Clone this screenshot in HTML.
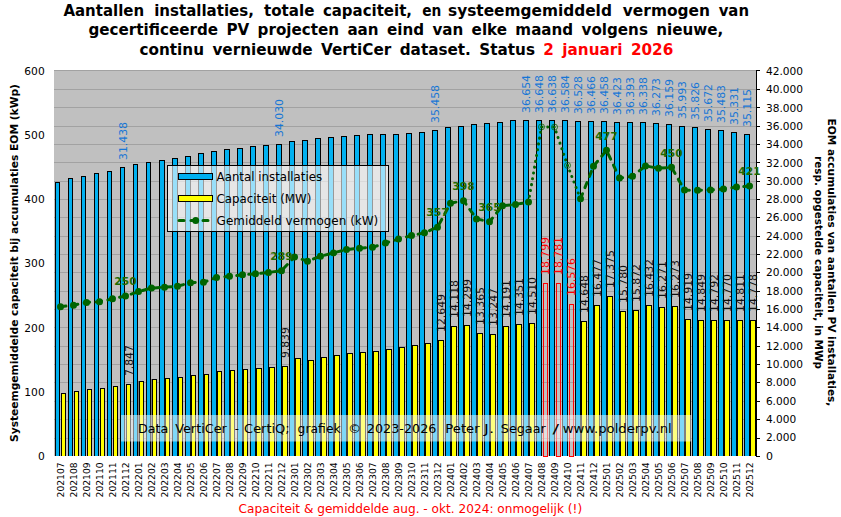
<!DOCTYPE html>
<html lang="nl"><head><meta charset="utf-8"><title>VertiCer PV statistiek</title>
<style>html,body{margin:0;padding:0;background:#fff}svg{display:block}</style></head>
<body>
<svg width="841" height="517" viewBox="0 0 841 517">
<rect width="841" height="517" fill="#fff"/>
<g shape-rendering="crispEdges">
<rect x="54" y="70" width="702" height="386" fill="#c0c0c0"/>
<line x1="54" x2="756" y1="70.5" y2="70.5" stroke="#a2a2a2" stroke-width="1"/>
<line x1="54" x2="756" y1="89.5" y2="89.5" stroke="#a2a2a2" stroke-width="1"/>
<line x1="54" x2="756" y1="107.5" y2="107.5" stroke="#a2a2a2" stroke-width="1"/>
<line x1="54" x2="756" y1="126.5" y2="126.5" stroke="#a2a2a2" stroke-width="1"/>
<line x1="54" x2="756" y1="144.5" y2="144.5" stroke="#a2a2a2" stroke-width="1"/>
<line x1="54" x2="756" y1="162.5" y2="162.5" stroke="#a2a2a2" stroke-width="1"/>
<line x1="54" x2="756" y1="181.5" y2="181.5" stroke="#a2a2a2" stroke-width="1"/>
<line x1="54" x2="756" y1="199.5" y2="199.5" stroke="#a2a2a2" stroke-width="1"/>
<line x1="54" x2="756" y1="217.5" y2="217.5" stroke="#a2a2a2" stroke-width="1"/>
<line x1="54" x2="756" y1="236.5" y2="236.5" stroke="#a2a2a2" stroke-width="1"/>
<line x1="54" x2="756" y1="254.5" y2="254.5" stroke="#a2a2a2" stroke-width="1"/>
<line x1="54" x2="756" y1="272.5" y2="272.5" stroke="#a2a2a2" stroke-width="1"/>
<line x1="54" x2="756" y1="291.5" y2="291.5" stroke="#a2a2a2" stroke-width="1"/>
<line x1="54" x2="756" y1="309.5" y2="309.5" stroke="#a2a2a2" stroke-width="1"/>
<line x1="54" x2="756" y1="327.5" y2="327.5" stroke="#a2a2a2" stroke-width="1"/>
<line x1="54" x2="756" y1="346.5" y2="346.5" stroke="#a2a2a2" stroke-width="1"/>
<line x1="54" x2="756" y1="364.5" y2="364.5" stroke="#a2a2a2" stroke-width="1"/>
<line x1="54" x2="756" y1="382.5" y2="382.5" stroke="#a2a2a2" stroke-width="1"/>
<line x1="54" x2="756" y1="401.5" y2="401.5" stroke="#a2a2a2" stroke-width="1"/>
<line x1="54" x2="756" y1="419.5" y2="419.5" stroke="#a2a2a2" stroke-width="1"/>
<line x1="54" x2="756" y1="438.5" y2="438.5" stroke="#a2a2a2" stroke-width="1"/>
<rect x="55" y="182" width="5" height="274" fill="#000"/>
<rect x="56" y="183" width="3" height="273" fill="#00b0f0"/>
<rect x="61" y="393" width="5" height="63" fill="#000"/>
<rect x="62" y="394" width="3" height="62" fill="#ffff00"/>
<rect x="68" y="178" width="5" height="278" fill="#000"/>
<rect x="69" y="179" width="3" height="277" fill="#00b0f0"/>
<rect x="74" y="391" width="5" height="65" fill="#000"/>
<rect x="75" y="392" width="3" height="64" fill="#ffff00"/>
<rect x="81" y="176" width="5" height="280" fill="#000"/>
<rect x="82" y="177" width="3" height="279" fill="#00b0f0"/>
<rect x="87" y="389" width="5" height="67" fill="#000"/>
<rect x="88" y="390" width="3" height="66" fill="#ffff00"/>
<rect x="94" y="173" width="5" height="283" fill="#000"/>
<rect x="95" y="174" width="3" height="282" fill="#00b0f0"/>
<rect x="100" y="388" width="5" height="68" fill="#000"/>
<rect x="101" y="389" width="3" height="67" fill="#ffff00"/>
<rect x="107" y="171" width="5" height="285" fill="#000"/>
<rect x="108" y="172" width="3" height="284" fill="#00b0f0"/>
<rect x="113" y="386" width="5" height="70" fill="#000"/>
<rect x="114" y="387" width="3" height="69" fill="#ffff00"/>
<rect x="120" y="167" width="5" height="289" fill="#000"/>
<rect x="121" y="168" width="3" height="288" fill="#00b0f0"/>
<rect x="126" y="384" width="5" height="72" fill="#000"/>
<rect x="127" y="385" width="3" height="71" fill="#ffff00"/>
<rect x="133" y="164" width="5" height="292" fill="#000"/>
<rect x="134" y="165" width="3" height="291" fill="#00b0f0"/>
<rect x="138" y="381" width="1" height="75" fill="#777"/>
<rect x="139" y="381" width="5" height="75" fill="#000"/>
<rect x="140" y="382" width="3" height="74" fill="#ffff00"/>
<rect x="146" y="162" width="5" height="294" fill="#000"/>
<rect x="147" y="163" width="3" height="293" fill="#00b0f0"/>
<rect x="151" y="379" width="1" height="77" fill="#777"/>
<rect x="152" y="379" width="5" height="77" fill="#000"/>
<rect x="153" y="380" width="3" height="76" fill="#ffff00"/>
<rect x="159" y="160" width="6" height="296" fill="#000"/>
<rect x="160" y="161" width="4" height="295" fill="#00b0f0"/>
<rect x="165" y="378" width="5" height="78" fill="#000"/>
<rect x="166" y="379" width="3" height="77" fill="#ffff00"/>
<rect x="172" y="158" width="6" height="298" fill="#000"/>
<rect x="173" y="159" width="4" height="297" fill="#00b0f0"/>
<rect x="178" y="377" width="5" height="79" fill="#000"/>
<rect x="179" y="378" width="3" height="78" fill="#ffff00"/>
<rect x="185" y="156" width="6" height="300" fill="#000"/>
<rect x="186" y="157" width="4" height="299" fill="#00b0f0"/>
<rect x="191" y="375" width="5" height="81" fill="#000"/>
<rect x="192" y="376" width="3" height="80" fill="#ffff00"/>
<rect x="198" y="153" width="6" height="303" fill="#000"/>
<rect x="199" y="154" width="4" height="302" fill="#00b0f0"/>
<rect x="204" y="374" width="5" height="82" fill="#000"/>
<rect x="205" y="375" width="3" height="81" fill="#ffff00"/>
<rect x="211" y="151" width="6" height="305" fill="#000"/>
<rect x="212" y="152" width="4" height="304" fill="#00b0f0"/>
<rect x="217" y="371" width="5" height="85" fill="#000"/>
<rect x="218" y="372" width="3" height="84" fill="#ffff00"/>
<rect x="224" y="149" width="6" height="307" fill="#000"/>
<rect x="225" y="150" width="4" height="306" fill="#00b0f0"/>
<rect x="230" y="370" width="5" height="86" fill="#000"/>
<rect x="231" y="371" width="3" height="85" fill="#ffff00"/>
<rect x="237" y="148" width="6" height="308" fill="#000"/>
<rect x="238" y="149" width="4" height="307" fill="#00b0f0"/>
<rect x="243" y="369" width="5" height="87" fill="#000"/>
<rect x="244" y="370" width="3" height="86" fill="#ffff00"/>
<rect x="250" y="146" width="6" height="310" fill="#000"/>
<rect x="251" y="147" width="4" height="309" fill="#00b0f0"/>
<rect x="256" y="368" width="6" height="88" fill="#000"/>
<rect x="257" y="369" width="4" height="87" fill="#ffff00"/>
<rect x="263" y="145" width="6" height="311" fill="#000"/>
<rect x="264" y="146" width="4" height="310" fill="#00b0f0"/>
<rect x="269" y="367" width="6" height="89" fill="#000"/>
<rect x="270" y="368" width="4" height="88" fill="#ffff00"/>
<rect x="276" y="144" width="6" height="312" fill="#000"/>
<rect x="277" y="145" width="4" height="311" fill="#00b0f0"/>
<rect x="282" y="366" width="6" height="90" fill="#000"/>
<rect x="283" y="367" width="4" height="89" fill="#ffff00"/>
<rect x="289" y="141" width="6" height="315" fill="#000"/>
<rect x="290" y="142" width="4" height="314" fill="#00b0f0"/>
<rect x="295" y="358" width="6" height="98" fill="#000"/>
<rect x="296" y="359" width="4" height="97" fill="#ffff00"/>
<rect x="302" y="140" width="6" height="316" fill="#000"/>
<rect x="303" y="141" width="4" height="315" fill="#00b0f0"/>
<rect x="308" y="360" width="6" height="96" fill="#000"/>
<rect x="309" y="361" width="4" height="95" fill="#ffff00"/>
<rect x="315" y="138" width="6" height="318" fill="#000"/>
<rect x="316" y="139" width="4" height="317" fill="#00b0f0"/>
<rect x="321" y="357" width="6" height="99" fill="#000"/>
<rect x="322" y="358" width="4" height="98" fill="#ffff00"/>
<rect x="328" y="137" width="6" height="319" fill="#000"/>
<rect x="329" y="138" width="4" height="318" fill="#00b0f0"/>
<rect x="334" y="355" width="6" height="101" fill="#000"/>
<rect x="335" y="356" width="4" height="100" fill="#ffff00"/>
<rect x="341" y="136" width="6" height="320" fill="#000"/>
<rect x="342" y="137" width="4" height="319" fill="#00b0f0"/>
<rect x="347" y="353" width="6" height="103" fill="#000"/>
<rect x="348" y="354" width="4" height="102" fill="#ffff00"/>
<rect x="354" y="135" width="6" height="321" fill="#000"/>
<rect x="355" y="136" width="4" height="320" fill="#00b0f0"/>
<rect x="360" y="352" width="6" height="104" fill="#000"/>
<rect x="361" y="353" width="4" height="103" fill="#ffff00"/>
<rect x="367" y="134" width="6" height="322" fill="#000"/>
<rect x="368" y="135" width="4" height="321" fill="#00b0f0"/>
<rect x="373" y="351" width="6" height="105" fill="#000"/>
<rect x="374" y="352" width="4" height="104" fill="#ffff00"/>
<rect x="380" y="134" width="6" height="322" fill="#000"/>
<rect x="381" y="135" width="4" height="321" fill="#00b0f0"/>
<rect x="386" y="349" width="6" height="107" fill="#000"/>
<rect x="387" y="350" width="4" height="106" fill="#ffff00"/>
<rect x="393" y="134" width="6" height="322" fill="#000"/>
<rect x="394" y="135" width="4" height="321" fill="#00b0f0"/>
<rect x="399" y="347" width="6" height="109" fill="#000"/>
<rect x="400" y="348" width="4" height="108" fill="#ffff00"/>
<rect x="406" y="133" width="6" height="323" fill="#000"/>
<rect x="407" y="134" width="4" height="322" fill="#00b0f0"/>
<rect x="412" y="345" width="6" height="111" fill="#000"/>
<rect x="413" y="346" width="4" height="110" fill="#ffff00"/>
<rect x="419" y="132" width="6" height="324" fill="#000"/>
<rect x="420" y="133" width="4" height="323" fill="#00b0f0"/>
<rect x="425" y="343" width="6" height="113" fill="#000"/>
<rect x="426" y="344" width="4" height="112" fill="#ffff00"/>
<rect x="432" y="130" width="6" height="326" fill="#000"/>
<rect x="433" y="131" width="4" height="325" fill="#00b0f0"/>
<rect x="438" y="340" width="6" height="116" fill="#000"/>
<rect x="439" y="341" width="4" height="115" fill="#ffff00"/>
<rect x="445" y="127" width="6" height="329" fill="#000"/>
<rect x="446" y="128" width="4" height="328" fill="#00b0f0"/>
<rect x="451" y="326" width="6" height="130" fill="#000"/>
<rect x="452" y="327" width="4" height="129" fill="#ffff00"/>
<rect x="458" y="126" width="6" height="330" fill="#000"/>
<rect x="459" y="127" width="4" height="329" fill="#00b0f0"/>
<rect x="464" y="325" width="6" height="131" fill="#000"/>
<rect x="465" y="326" width="4" height="130" fill="#ffff00"/>
<rect x="471" y="124" width="6" height="332" fill="#000"/>
<rect x="472" y="125" width="4" height="331" fill="#00b0f0"/>
<rect x="477" y="333" width="6" height="123" fill="#000"/>
<rect x="478" y="334" width="4" height="122" fill="#ffff00"/>
<rect x="484" y="123" width="6" height="333" fill="#000"/>
<rect x="485" y="124" width="4" height="332" fill="#00b0f0"/>
<rect x="490" y="334" width="6" height="122" fill="#000"/>
<rect x="491" y="335" width="4" height="121" fill="#ffff00"/>
<rect x="497" y="122" width="6" height="334" fill="#000"/>
<rect x="498" y="123" width="4" height="333" fill="#00b0f0"/>
<rect x="503" y="326" width="6" height="130" fill="#000"/>
<rect x="504" y="327" width="4" height="129" fill="#ffff00"/>
<rect x="510" y="120" width="6" height="336" fill="#000"/>
<rect x="511" y="121" width="4" height="335" fill="#00b0f0"/>
<rect x="516" y="324" width="6" height="132" fill="#000"/>
<rect x="517" y="325" width="4" height="131" fill="#ffff00"/>
<rect x="523" y="120" width="6" height="336" fill="#000"/>
<rect x="524" y="121" width="4" height="335" fill="#00b0f0"/>
<rect x="529" y="323" width="6" height="133" fill="#000"/>
<rect x="530" y="324" width="4" height="132" fill="#ffff00"/>
<rect x="536" y="120" width="6" height="336" fill="#000"/>
<rect x="537" y="121" width="4" height="335" fill="#00b0f0"/>
<rect x="543.5" y="283.5" width="4" height="173" fill="none" stroke="#ff0000" stroke-width="1"/>
<rect x="549" y="120" width="6" height="336" fill="#000"/>
<rect x="550" y="121" width="4" height="335" fill="#00b0f0"/>
<rect x="556.5" y="283.5" width="4" height="173" fill="none" stroke="#ff0000" stroke-width="1"/>
<rect x="562" y="120" width="6" height="336" fill="#000"/>
<rect x="563" y="121" width="4" height="335" fill="#00b0f0"/>
<rect x="569.5" y="304.5" width="4" height="152" fill="none" stroke="#ff0000" stroke-width="1"/>
<rect x="575" y="121" width="6" height="335" fill="#000"/>
<rect x="576" y="122" width="4" height="334" fill="#00b0f0"/>
<rect x="581" y="321" width="6" height="135" fill="#000"/>
<rect x="582" y="322" width="4" height="134" fill="#ffff00"/>
<rect x="588" y="121" width="6" height="335" fill="#000"/>
<rect x="589" y="122" width="4" height="334" fill="#00b0f0"/>
<rect x="594" y="305" width="6" height="151" fill="#000"/>
<rect x="595" y="306" width="4" height="150" fill="#ffff00"/>
<rect x="601" y="121" width="6" height="335" fill="#000"/>
<rect x="602" y="122" width="4" height="334" fill="#00b0f0"/>
<rect x="607" y="296" width="6" height="160" fill="#000"/>
<rect x="608" y="297" width="4" height="159" fill="#ffff00"/>
<rect x="614" y="122" width="6" height="334" fill="#000"/>
<rect x="615" y="123" width="4" height="333" fill="#00b0f0"/>
<rect x="620" y="311" width="6" height="145" fill="#000"/>
<rect x="621" y="312" width="4" height="144" fill="#ffff00"/>
<rect x="627" y="122" width="6" height="334" fill="#000"/>
<rect x="628" y="123" width="4" height="333" fill="#00b0f0"/>
<rect x="633" y="310" width="6" height="146" fill="#000"/>
<rect x="634" y="311" width="4" height="145" fill="#ffff00"/>
<rect x="640" y="122" width="6" height="334" fill="#000"/>
<rect x="641" y="123" width="4" height="333" fill="#00b0f0"/>
<rect x="646" y="305" width="6" height="151" fill="#000"/>
<rect x="647" y="306" width="4" height="150" fill="#ffff00"/>
<rect x="653" y="123" width="6" height="333" fill="#000"/>
<rect x="654" y="124" width="4" height="332" fill="#00b0f0"/>
<rect x="659" y="307" width="6" height="149" fill="#000"/>
<rect x="660" y="308" width="4" height="148" fill="#ffff00"/>
<rect x="666" y="124" width="6" height="332" fill="#000"/>
<rect x="667" y="125" width="4" height="331" fill="#00b0f0"/>
<rect x="672" y="306" width="6" height="150" fill="#000"/>
<rect x="673" y="307" width="4" height="149" fill="#ffff00"/>
<rect x="679" y="126" width="6" height="330" fill="#000"/>
<rect x="680" y="127" width="4" height="329" fill="#00b0f0"/>
<rect x="685" y="319" width="6" height="137" fill="#000"/>
<rect x="686" y="320" width="4" height="136" fill="#ffff00"/>
<rect x="692" y="127" width="6" height="329" fill="#000"/>
<rect x="693" y="128" width="4" height="328" fill="#00b0f0"/>
<rect x="698" y="320" width="6" height="136" fill="#000"/>
<rect x="699" y="321" width="4" height="135" fill="#ffff00"/>
<rect x="705" y="129" width="6" height="327" fill="#000"/>
<rect x="706" y="130" width="4" height="326" fill="#00b0f0"/>
<rect x="711" y="320" width="6" height="136" fill="#000"/>
<rect x="712" y="321" width="4" height="135" fill="#ffff00"/>
<rect x="718" y="130" width="6" height="326" fill="#000"/>
<rect x="719" y="131" width="4" height="325" fill="#00b0f0"/>
<rect x="724" y="320" width="6" height="136" fill="#000"/>
<rect x="725" y="321" width="4" height="135" fill="#ffff00"/>
<rect x="731" y="132" width="6" height="324" fill="#000"/>
<rect x="732" y="133" width="4" height="323" fill="#00b0f0"/>
<rect x="737" y="320" width="6" height="136" fill="#000"/>
<rect x="738" y="321" width="4" height="135" fill="#ffff00"/>
<rect x="744" y="134" width="6" height="322" fill="#000"/>
<rect x="745" y="135" width="4" height="321" fill="#00b0f0"/>
<rect x="750" y="320" width="6" height="136" fill="#000"/>
<rect x="751" y="321" width="4" height="135" fill="#ffff00"/>
<line x1="756.5" x2="756.5" y1="70" y2="457" stroke="#000"/>
<line x1="756" x2="760" y1="70.5" y2="70.5" stroke="#000"/>
<line x1="756" x2="760" y1="89.5" y2="89.5" stroke="#000"/>
<line x1="756" x2="760" y1="107.5" y2="107.5" stroke="#000"/>
<line x1="756" x2="760" y1="126.5" y2="126.5" stroke="#000"/>
<line x1="756" x2="760" y1="144.5" y2="144.5" stroke="#000"/>
<line x1="756" x2="760" y1="162.5" y2="162.5" stroke="#000"/>
<line x1="756" x2="760" y1="181.5" y2="181.5" stroke="#000"/>
<line x1="756" x2="760" y1="199.5" y2="199.5" stroke="#000"/>
<line x1="756" x2="760" y1="217.5" y2="217.5" stroke="#000"/>
<line x1="756" x2="760" y1="236.5" y2="236.5" stroke="#000"/>
<line x1="756" x2="760" y1="254.5" y2="254.5" stroke="#000"/>
<line x1="756" x2="760" y1="272.5" y2="272.5" stroke="#000"/>
<line x1="756" x2="760" y1="291.5" y2="291.5" stroke="#000"/>
<line x1="756" x2="760" y1="309.5" y2="309.5" stroke="#000"/>
<line x1="756" x2="760" y1="327.5" y2="327.5" stroke="#000"/>
<line x1="756" x2="760" y1="346.5" y2="346.5" stroke="#000"/>
<line x1="756" x2="760" y1="364.5" y2="364.5" stroke="#000"/>
<line x1="756" x2="760" y1="382.5" y2="382.5" stroke="#000"/>
<line x1="756" x2="760" y1="401.5" y2="401.5" stroke="#000"/>
<line x1="756" x2="760" y1="419.5" y2="419.5" stroke="#000"/>
<line x1="756" x2="760" y1="438.5" y2="438.5" stroke="#000"/>
<line x1="756" x2="760" y1="456.5" y2="456.5" stroke="#000"/>
</g>
<rect x="121" y="415" width="570.5" height="26.5" fill="#fff" fill-opacity="0.5"/>
<g font-family="'DejaVu Sans','Liberation Sans',sans-serif" font-size="12.4" fill="#000">
<text x="137.9" y="432.6" textLength="30.4" lengthAdjust="spacingAndGlyphs">Data</text>
<text x="175.2" y="432.6" textLength="51.7" lengthAdjust="spacingAndGlyphs">VertiCer</text>
<text x="234.8" y="432.6" textLength="4.2" lengthAdjust="spacingAndGlyphs">-</text>
<text x="244.1" y="432.6" textLength="45.6" lengthAdjust="spacingAndGlyphs">CertiQ;</text>
<text x="297.6" y="432.6" textLength="43.1" lengthAdjust="spacingAndGlyphs">grafiek</text>
<text x="348.0" y="432.6" textLength="13.2" lengthAdjust="spacingAndGlyphs">©</text>
<text x="366.8" y="432.6" textLength="69.6" lengthAdjust="spacingAndGlyphs">2023-2026</text>
<text x="445.3" y="432.6" textLength="34.3" lengthAdjust="spacingAndGlyphs">Peter</text>
<text x="484.1" y="432.6" textLength="10.0" lengthAdjust="spacingAndGlyphs">J.</text>
<text x="500.8" y="432.6" textLength="44.9" lengthAdjust="spacingAndGlyphs">Segaar</text>
<text x="552.4" y="432.6" textLength="6.6" lengthAdjust="spacingAndGlyphs">/</text>
<text x="562.8" y="432.6" textLength="108.9" lengthAdjust="spacingAndGlyphs">www.polderpv.nl</text>
</g>
<g font-family="'DejaVu Sans','Liberation Sans',sans-serif" font-size="10.6" fill="#1676d6">
<text transform="translate(126.6,160) rotate(-90)" textLength="38" lengthAdjust="spacingAndGlyphs">31.438</text>
<text transform="translate(283.1,137) rotate(-90)" textLength="38" lengthAdjust="spacingAndGlyphs">34.030</text>
<text transform="translate(439.1,123) rotate(-90)" textLength="38" lengthAdjust="spacingAndGlyphs">35.458</text>
<text transform="translate(530.1,113) rotate(-90)" textLength="38" lengthAdjust="spacingAndGlyphs">36.654</text>
<text transform="translate(543.1,113) rotate(-90)" textLength="38" lengthAdjust="spacingAndGlyphs">36.648</text>
<text transform="translate(556.1,113) rotate(-90)" textLength="38" lengthAdjust="spacingAndGlyphs">36.638</text>
<text transform="translate(569.1,113) rotate(-90)" textLength="38" lengthAdjust="spacingAndGlyphs">36.584</text>
<text transform="translate(582.1,114) rotate(-90)" textLength="38" lengthAdjust="spacingAndGlyphs">36.528</text>
<text transform="translate(595.1,114) rotate(-90)" textLength="38" lengthAdjust="spacingAndGlyphs">36.466</text>
<text transform="translate(608.1,114) rotate(-90)" textLength="38" lengthAdjust="spacingAndGlyphs">36.458</text>
<text transform="translate(621.1,115) rotate(-90)" textLength="38" lengthAdjust="spacingAndGlyphs">36.423</text>
<text transform="translate(634.1,115) rotate(-90)" textLength="38" lengthAdjust="spacingAndGlyphs">36.393</text>
<text transform="translate(647.1,115) rotate(-90)" textLength="38" lengthAdjust="spacingAndGlyphs">36.338</text>
<text transform="translate(660.1,116) rotate(-90)" textLength="38" lengthAdjust="spacingAndGlyphs">36.273</text>
<text transform="translate(673.1,117) rotate(-90)" textLength="38" lengthAdjust="spacingAndGlyphs">36.159</text>
<text transform="translate(686.1,119) rotate(-90)" textLength="38" lengthAdjust="spacingAndGlyphs">35.993</text>
<text transform="translate(699.1,120) rotate(-90)" textLength="38" lengthAdjust="spacingAndGlyphs">35.826</text>
<text transform="translate(712.1,122) rotate(-90)" textLength="38" lengthAdjust="spacingAndGlyphs">35.672</text>
<text transform="translate(725.1,123) rotate(-90)" textLength="38" lengthAdjust="spacingAndGlyphs">35.483</text>
<text transform="translate(738.1,125) rotate(-90)" textLength="38" lengthAdjust="spacingAndGlyphs">35.331</text>
<text transform="translate(751.1,127) rotate(-90)" textLength="38" lengthAdjust="spacingAndGlyphs">35.115</text>
</g>
<g font-family="'DejaVu Sans','Liberation Sans',sans-serif" font-size="10.6">
<text transform="translate(132.7,376) rotate(-90)" fill="#111" textLength="30.8" lengthAdjust="spacingAndGlyphs">7.847</text>
<text transform="translate(289.2,358) rotate(-90)" fill="#111" textLength="30.8" lengthAdjust="spacingAndGlyphs">9.839</text>
<text transform="translate(445.2,332) rotate(-90)" fill="#111" textLength="38" lengthAdjust="spacingAndGlyphs">12.649</text>
<text transform="translate(458.2,318) rotate(-90)" fill="#111" textLength="38" lengthAdjust="spacingAndGlyphs">14.118</text>
<text transform="translate(471.2,317) rotate(-90)" fill="#111" textLength="38" lengthAdjust="spacingAndGlyphs">14.299</text>
<text transform="translate(484.2,325) rotate(-90)" fill="#111" textLength="38" lengthAdjust="spacingAndGlyphs">13.365</text>
<text transform="translate(497.2,326) rotate(-90)" fill="#111" textLength="38" lengthAdjust="spacingAndGlyphs">13.247</text>
<text transform="translate(510.2,318) rotate(-90)" fill="#111" textLength="38" lengthAdjust="spacingAndGlyphs">14.191</text>
<text transform="translate(523.2,316) rotate(-90)" fill="#111" textLength="38" lengthAdjust="spacingAndGlyphs">14.351</text>
<text transform="translate(536.2,315) rotate(-90)" fill="#111" textLength="38" lengthAdjust="spacingAndGlyphs">14.510</text>
<text transform="translate(549.2,275) rotate(-90)" fill="#ff0000" textLength="38" lengthAdjust="spacingAndGlyphs">18.799</text>
<text transform="translate(562.2,275) rotate(-90)" fill="#ff0000" textLength="38" lengthAdjust="spacingAndGlyphs">18.781</text>
<text transform="translate(575.2,296) rotate(-90)" fill="#ff0000" textLength="38" lengthAdjust="spacingAndGlyphs">16.576</text>
<text transform="translate(588.2,313) rotate(-90)" fill="#111" textLength="38" lengthAdjust="spacingAndGlyphs">14.648</text>
<text transform="translate(601.2,297) rotate(-90)" fill="#111" textLength="38" lengthAdjust="spacingAndGlyphs">16.477</text>
<text transform="translate(614.2,288) rotate(-90)" fill="#111" textLength="38" lengthAdjust="spacingAndGlyphs">17.375</text>
<text transform="translate(627.2,303) rotate(-90)" fill="#111" textLength="38" lengthAdjust="spacingAndGlyphs">15.780</text>
<text transform="translate(640.2,302) rotate(-90)" fill="#111" textLength="38" lengthAdjust="spacingAndGlyphs">15.872</text>
<text transform="translate(653.2,297) rotate(-90)" fill="#111" textLength="38" lengthAdjust="spacingAndGlyphs">16.432</text>
<text transform="translate(666.2,299) rotate(-90)" fill="#111" textLength="38" lengthAdjust="spacingAndGlyphs">16.271</text>
<text transform="translate(679.2,298) rotate(-90)" fill="#111" textLength="38" lengthAdjust="spacingAndGlyphs">16.273</text>
<text transform="translate(692.2,311) rotate(-90)" fill="#111" textLength="38" lengthAdjust="spacingAndGlyphs">14.919</text>
<text transform="translate(705.2,312) rotate(-90)" fill="#111" textLength="38" lengthAdjust="spacingAndGlyphs">14.849</text>
<text transform="translate(718.2,312) rotate(-90)" fill="#111" textLength="38" lengthAdjust="spacingAndGlyphs">14.792</text>
<text transform="translate(731.2,312) rotate(-90)" fill="#111" textLength="38" lengthAdjust="spacingAndGlyphs">14.770</text>
<text transform="translate(744.2,312) rotate(-90)" fill="#111" textLength="38" lengthAdjust="spacingAndGlyphs">14.811</text>
<text transform="translate(757.2,312) rotate(-90)" fill="#111" textLength="38" lengthAdjust="spacingAndGlyphs">14.778</text>
</g>
<path d="M60.5,306.7 L73.5,305.2 L86.5,302.4 L99.5,301.8 L112.5,298.8 L125.5,296.0 L138.5,291.6 L151.5,288.1 L164.5,287.2 L177.5,286.2 L190.5,282.7 L203.5,282.3 L216.5,277.5 L229.5,276.3 L242.5,274.8 L255.5,273.8 L268.5,272.4 L281.5,270.7 L294.5,256.9 L307.5,261.2 L320.5,256.3 L333.5,252.9 L346.5,249.6 L359.5,248.2 L372.5,247.3 L385.5,243.0 L398.5,239.1 L411.5,235.6 L424.5,232.7 L437.5,227.2 L450.5,203.2 L463.5,200.7 L476.5,218.9 L489.5,221.7 L502.5,205.7 L515.5,204.4 L528.5,202.1" fill="none" stroke="#006400" stroke-width="3" stroke-dasharray="5.5 6.5" stroke-linecap="round" stroke-linejoin="round"/>
<path d="M580.5,198.8 L593.5,166.2 L606.5,150.3 L619.5,178.1 L632.5,176.2 L645.5,165.9 L658.5,168.3 L671.5,167.3 L684.5,190.1 L697.5,190.2 L710.5,190.0 L723.5,189.0 L736.5,187.1 L749.5,186.1" fill="none" stroke="#006400" stroke-width="3" stroke-dasharray="5.5 6.5" stroke-linecap="round" stroke-linejoin="round"/>
<path d="M528.5,202.1 L541.5,126.9 L554.5,127.1 L567.5,165.4 L580.5,198.8" fill="none" stroke="#006400" stroke-width="3" stroke-dasharray="0.1 5.8" stroke-linecap="round"/>
<circle cx="60.5" cy="306.7" r="3.5" fill="#006400"/>
<circle cx="73.5" cy="305.2" r="3.5" fill="#006400"/>
<circle cx="86.5" cy="302.4" r="3.5" fill="#006400"/>
<circle cx="99.5" cy="301.8" r="3.5" fill="#006400"/>
<circle cx="112.5" cy="298.8" r="3.5" fill="#006400"/>
<circle cx="125.5" cy="296.0" r="3.5" fill="#006400"/>
<circle cx="138.5" cy="291.6" r="3.5" fill="#006400"/>
<circle cx="151.5" cy="288.1" r="3.5" fill="#006400"/>
<circle cx="164.5" cy="287.2" r="3.5" fill="#006400"/>
<circle cx="177.5" cy="286.2" r="3.5" fill="#006400"/>
<circle cx="190.5" cy="282.7" r="3.5" fill="#006400"/>
<circle cx="203.5" cy="282.3" r="3.5" fill="#006400"/>
<circle cx="216.5" cy="277.5" r="3.5" fill="#006400"/>
<circle cx="229.5" cy="276.3" r="3.5" fill="#006400"/>
<circle cx="242.5" cy="274.8" r="3.5" fill="#006400"/>
<circle cx="255.5" cy="273.8" r="3.5" fill="#006400"/>
<circle cx="268.5" cy="272.4" r="3.5" fill="#006400"/>
<circle cx="281.5" cy="270.7" r="3.5" fill="#006400"/>
<circle cx="294.5" cy="256.9" r="3.5" fill="#006400"/>
<circle cx="307.5" cy="261.2" r="3.5" fill="#006400"/>
<circle cx="320.5" cy="256.3" r="3.5" fill="#006400"/>
<circle cx="333.5" cy="252.9" r="3.5" fill="#006400"/>
<circle cx="346.5" cy="249.6" r="3.5" fill="#006400"/>
<circle cx="359.5" cy="248.2" r="3.5" fill="#006400"/>
<circle cx="372.5" cy="247.3" r="3.5" fill="#006400"/>
<circle cx="385.5" cy="243.0" r="3.5" fill="#006400"/>
<circle cx="398.5" cy="239.1" r="3.5" fill="#006400"/>
<circle cx="411.5" cy="235.6" r="3.5" fill="#006400"/>
<circle cx="424.5" cy="232.7" r="3.5" fill="#006400"/>
<circle cx="437.5" cy="227.2" r="3.5" fill="#006400"/>
<circle cx="450.5" cy="203.2" r="3.5" fill="#006400"/>
<circle cx="463.5" cy="200.7" r="3.5" fill="#006400"/>
<circle cx="476.5" cy="218.9" r="3.5" fill="#006400"/>
<circle cx="489.5" cy="221.7" r="3.5" fill="#006400"/>
<circle cx="502.5" cy="205.7" r="3.5" fill="#006400"/>
<circle cx="515.5" cy="204.4" r="3.5" fill="#006400"/>
<circle cx="528.5" cy="202.1" r="3.5" fill="#006400"/>
<circle cx="541.5" cy="126.9" r="3.0" fill="none" stroke="#006400" stroke-width="0.8"/>
<circle cx="541.5" cy="126.9" r="1.2" fill="#006400"/>
<circle cx="554.5" cy="127.1" r="3.0" fill="none" stroke="#006400" stroke-width="0.8"/>
<circle cx="554.5" cy="127.1" r="1.2" fill="#006400"/>
<circle cx="567.5" cy="165.4" r="3.0" fill="none" stroke="#006400" stroke-width="0.8"/>
<circle cx="567.5" cy="165.4" r="1.2" fill="#006400"/>
<circle cx="580.5" cy="198.8" r="3.5" fill="#006400"/>
<circle cx="593.5" cy="166.2" r="3.5" fill="#006400"/>
<circle cx="606.5" cy="150.3" r="3.5" fill="#006400"/>
<circle cx="619.5" cy="178.1" r="3.5" fill="#006400"/>
<circle cx="632.5" cy="176.2" r="3.5" fill="#006400"/>
<circle cx="645.5" cy="165.9" r="3.5" fill="#006400"/>
<circle cx="658.5" cy="168.3" r="3.5" fill="#006400"/>
<circle cx="671.5" cy="167.3" r="3.5" fill="#006400"/>
<circle cx="684.5" cy="190.1" r="3.5" fill="#006400"/>
<circle cx="697.5" cy="190.2" r="3.5" fill="#006400"/>
<circle cx="710.5" cy="190.0" r="3.5" fill="#006400"/>
<circle cx="723.5" cy="189.0" r="3.5" fill="#006400"/>
<circle cx="736.5" cy="187.1" r="3.5" fill="#006400"/>
<circle cx="749.5" cy="186.1" r="3.5" fill="#006400"/>
<g font-family="'DejaVu Sans','Liberation Sans',sans-serif" font-size="10.7" font-weight="bold" fill="#1f6b00" text-anchor="middle">
<text x="125.5" y="285.2">250</text>
<text x="281.5" y="259.9">289</text>
<text x="437.5" y="216.4">357</text>
<text x="463.5" y="189.9">398</text>
<text x="489.5" y="210.9">365</text>
<text x="606.5" y="139.5">477</text>
<text x="671.5" y="156.5">450</text>
<text x="749.5" y="175.3">421</text>
</g>
<g shape-rendering="crispEdges">
<rect x="167.5" y="165.5" width="221" height="66" fill="#fff" fill-opacity="0.6" stroke="#000" stroke-width="1"/>
<rect x="178.5" y="173.5" width="34" height="6" fill="#00b0f0" stroke="#000"/>
<rect x="178.5" y="195.5" width="34" height="6" fill="#ffff00" stroke="#000"/>
</g>
<path d="M179,220.5 H208.2" stroke="#006400" stroke-width="3" stroke-dasharray="5 7" stroke-linecap="round"/>
<circle cx="195.7" cy="220.5" r="3.5" fill="#006400"/>
<g font-family="'DejaVu Sans','Liberation Sans',sans-serif" font-size="12" fill="#000">
<text x="216.6" y="180.7" textLength="105.5" lengthAdjust="spacingAndGlyphs">Aantal installaties</text>
<text x="216.6" y="203.1" textLength="94.7" lengthAdjust="spacingAndGlyphs">Capaciteit (MW)</text>
<text x="216.6" y="225.2" textLength="161.7" lengthAdjust="spacingAndGlyphs">Gemiddeld vermogen (kW)</text>
</g>
<g font-family="'DejaVu Sans','Liberation Sans',sans-serif" font-size="10.7" fill="#000" text-anchor="end">
<text x="44.7" y="459.7">0</text>
<text x="44.7" y="395.6">100</text>
<text x="44.7" y="331.5">200</text>
<text x="44.7" y="267.4">300</text>
<text x="44.7" y="203.3">400</text>
<text x="44.7" y="139.2">500</text>
<text x="44.7" y="75.1">600</text>
</g>
<g font-family="'DejaVu Sans','Liberation Sans',sans-serif" font-size="10.6" fill="#000">
<text x="765.9" y="459.5" textLength="7.0" lengthAdjust="spacingAndGlyphs">0</text>
<text x="765.9" y="441.2" textLength="30.2" lengthAdjust="spacingAndGlyphs">2.000</text>
<text x="765.9" y="422.9" textLength="30.2" lengthAdjust="spacingAndGlyphs">4.000</text>
<text x="765.9" y="404.6" textLength="30.2" lengthAdjust="spacingAndGlyphs">6.000</text>
<text x="765.9" y="386.3" textLength="30.2" lengthAdjust="spacingAndGlyphs">8.000</text>
<text x="765.9" y="367.9" textLength="37.1" lengthAdjust="spacingAndGlyphs">10.000</text>
<text x="765.9" y="349.6" textLength="37.1" lengthAdjust="spacingAndGlyphs">12.000</text>
<text x="765.9" y="331.3" textLength="37.1" lengthAdjust="spacingAndGlyphs">14.000</text>
<text x="765.9" y="313.0" textLength="37.1" lengthAdjust="spacingAndGlyphs">16.000</text>
<text x="765.9" y="294.7" textLength="37.1" lengthAdjust="spacingAndGlyphs">18.000</text>
<text x="765.9" y="276.4" textLength="37.1" lengthAdjust="spacingAndGlyphs">20.000</text>
<text x="765.9" y="258.1" textLength="37.1" lengthAdjust="spacingAndGlyphs">22.000</text>
<text x="765.9" y="239.7" textLength="37.1" lengthAdjust="spacingAndGlyphs">24.000</text>
<text x="765.9" y="221.4" textLength="37.1" lengthAdjust="spacingAndGlyphs">26.000</text>
<text x="765.9" y="203.1" textLength="37.1" lengthAdjust="spacingAndGlyphs">28.000</text>
<text x="765.9" y="184.8" textLength="37.1" lengthAdjust="spacingAndGlyphs">30.000</text>
<text x="765.9" y="166.5" textLength="37.1" lengthAdjust="spacingAndGlyphs">32.000</text>
<text x="765.9" y="148.2" textLength="37.1" lengthAdjust="spacingAndGlyphs">34.000</text>
<text x="765.9" y="129.8" textLength="37.1" lengthAdjust="spacingAndGlyphs">36.000</text>
<text x="765.9" y="111.5" textLength="37.1" lengthAdjust="spacingAndGlyphs">38.000</text>
<text x="765.9" y="93.2" textLength="37.1" lengthAdjust="spacingAndGlyphs">40.000</text>
<text x="765.9" y="74.9" textLength="37.1" lengthAdjust="spacingAndGlyphs">42.000</text>
</g>
<g font-family="'DejaVu Sans','Liberation Sans',sans-serif" font-size="9.2" fill="#000" text-anchor="end">
<text transform="translate(63.8,462.3) rotate(-90)" textLength="35.2" lengthAdjust="spacingAndGlyphs">202107</text>
<text transform="translate(76.8,462.3) rotate(-90)" textLength="35.2" lengthAdjust="spacingAndGlyphs">202108</text>
<text transform="translate(89.8,462.3) rotate(-90)" textLength="35.2" lengthAdjust="spacingAndGlyphs">202109</text>
<text transform="translate(102.8,462.3) rotate(-90)" textLength="35.2" lengthAdjust="spacingAndGlyphs">202110</text>
<text transform="translate(115.8,462.3) rotate(-90)" textLength="35.2" lengthAdjust="spacingAndGlyphs">202111</text>
<text transform="translate(128.8,462.3) rotate(-90)" textLength="35.2" lengthAdjust="spacingAndGlyphs">202112</text>
<text transform="translate(141.8,462.3) rotate(-90)" textLength="35.2" lengthAdjust="spacingAndGlyphs">202201</text>
<text transform="translate(154.8,462.3) rotate(-90)" textLength="35.2" lengthAdjust="spacingAndGlyphs">202202</text>
<text transform="translate(167.8,462.3) rotate(-90)" textLength="35.2" lengthAdjust="spacingAndGlyphs">202203</text>
<text transform="translate(180.8,462.3) rotate(-90)" textLength="35.2" lengthAdjust="spacingAndGlyphs">202204</text>
<text transform="translate(193.8,462.3) rotate(-90)" textLength="35.2" lengthAdjust="spacingAndGlyphs">202205</text>
<text transform="translate(206.8,462.3) rotate(-90)" textLength="35.2" lengthAdjust="spacingAndGlyphs">202206</text>
<text transform="translate(219.8,462.3) rotate(-90)" textLength="35.2" lengthAdjust="spacingAndGlyphs">202207</text>
<text transform="translate(232.8,462.3) rotate(-90)" textLength="35.2" lengthAdjust="spacingAndGlyphs">202208</text>
<text transform="translate(245.8,462.3) rotate(-90)" textLength="35.2" lengthAdjust="spacingAndGlyphs">202209</text>
<text transform="translate(258.8,462.3) rotate(-90)" textLength="35.2" lengthAdjust="spacingAndGlyphs">202210</text>
<text transform="translate(271.8,462.3) rotate(-90)" textLength="35.2" lengthAdjust="spacingAndGlyphs">202211</text>
<text transform="translate(284.8,462.3) rotate(-90)" textLength="35.2" lengthAdjust="spacingAndGlyphs">202212</text>
<text transform="translate(297.8,462.3) rotate(-90)" textLength="35.2" lengthAdjust="spacingAndGlyphs">202301</text>
<text transform="translate(310.8,462.3) rotate(-90)" textLength="35.2" lengthAdjust="spacingAndGlyphs">202302</text>
<text transform="translate(323.8,462.3) rotate(-90)" textLength="35.2" lengthAdjust="spacingAndGlyphs">202303</text>
<text transform="translate(336.8,462.3) rotate(-90)" textLength="35.2" lengthAdjust="spacingAndGlyphs">202304</text>
<text transform="translate(349.8,462.3) rotate(-90)" textLength="35.2" lengthAdjust="spacingAndGlyphs">202305</text>
<text transform="translate(362.8,462.3) rotate(-90)" textLength="35.2" lengthAdjust="spacingAndGlyphs">202306</text>
<text transform="translate(375.8,462.3) rotate(-90)" textLength="35.2" lengthAdjust="spacingAndGlyphs">202307</text>
<text transform="translate(388.8,462.3) rotate(-90)" textLength="35.2" lengthAdjust="spacingAndGlyphs">202308</text>
<text transform="translate(401.8,462.3) rotate(-90)" textLength="35.2" lengthAdjust="spacingAndGlyphs">202309</text>
<text transform="translate(414.8,462.3) rotate(-90)" textLength="35.2" lengthAdjust="spacingAndGlyphs">202310</text>
<text transform="translate(427.8,462.3) rotate(-90)" textLength="35.2" lengthAdjust="spacingAndGlyphs">202311</text>
<text transform="translate(440.8,462.3) rotate(-90)" textLength="35.2" lengthAdjust="spacingAndGlyphs">202312</text>
<text transform="translate(453.8,462.3) rotate(-90)" textLength="35.2" lengthAdjust="spacingAndGlyphs">202401</text>
<text transform="translate(466.8,462.3) rotate(-90)" textLength="35.2" lengthAdjust="spacingAndGlyphs">202402</text>
<text transform="translate(479.8,462.3) rotate(-90)" textLength="35.2" lengthAdjust="spacingAndGlyphs">202403</text>
<text transform="translate(492.8,462.3) rotate(-90)" textLength="35.2" lengthAdjust="spacingAndGlyphs">202404</text>
<text transform="translate(505.8,462.3) rotate(-90)" textLength="35.2" lengthAdjust="spacingAndGlyphs">202405</text>
<text transform="translate(518.8,462.3) rotate(-90)" textLength="35.2" lengthAdjust="spacingAndGlyphs">202406</text>
<text transform="translate(531.8,462.3) rotate(-90)" textLength="35.2" lengthAdjust="spacingAndGlyphs">202407</text>
<text transform="translate(544.8,462.3) rotate(-90)" textLength="35.2" lengthAdjust="spacingAndGlyphs">202408</text>
<text transform="translate(557.8,462.3) rotate(-90)" textLength="35.2" lengthAdjust="spacingAndGlyphs">202409</text>
<text transform="translate(570.8,462.3) rotate(-90)" textLength="35.2" lengthAdjust="spacingAndGlyphs">202410</text>
<text transform="translate(583.8,462.3) rotate(-90)" textLength="35.2" lengthAdjust="spacingAndGlyphs">202411</text>
<text transform="translate(596.8,462.3) rotate(-90)" textLength="35.2" lengthAdjust="spacingAndGlyphs">202412</text>
<text transform="translate(609.8,462.3) rotate(-90)" textLength="35.2" lengthAdjust="spacingAndGlyphs">202501</text>
<text transform="translate(622.8,462.3) rotate(-90)" textLength="35.2" lengthAdjust="spacingAndGlyphs">202502</text>
<text transform="translate(635.8,462.3) rotate(-90)" textLength="35.2" lengthAdjust="spacingAndGlyphs">202503</text>
<text transform="translate(648.8,462.3) rotate(-90)" textLength="35.2" lengthAdjust="spacingAndGlyphs">202504</text>
<text transform="translate(661.8,462.3) rotate(-90)" textLength="35.2" lengthAdjust="spacingAndGlyphs">202505</text>
<text transform="translate(674.8,462.3) rotate(-90)" textLength="35.2" lengthAdjust="spacingAndGlyphs">202506</text>
<text transform="translate(687.8,462.3) rotate(-90)" textLength="35.2" lengthAdjust="spacingAndGlyphs">202507</text>
<text transform="translate(700.8,462.3) rotate(-90)" textLength="35.2" lengthAdjust="spacingAndGlyphs">202508</text>
<text transform="translate(713.8,462.3) rotate(-90)" textLength="35.2" lengthAdjust="spacingAndGlyphs">202509</text>
<text transform="translate(726.8,462.3) rotate(-90)" textLength="35.2" lengthAdjust="spacingAndGlyphs">202510</text>
<text transform="translate(739.8,462.3) rotate(-90)" textLength="35.2" lengthAdjust="spacingAndGlyphs">202511</text>
<text transform="translate(752.8,462.3) rotate(-90)" textLength="35.2" lengthAdjust="spacingAndGlyphs">202512</text>
</g>
<g font-family="'DejaVu Sans','Liberation Sans',sans-serif" font-size="10.6" font-weight="bold" fill="#000">
<text transform="translate(18,442) rotate(-90)" textLength="358" lengthAdjust="spacingAndGlyphs">Systeemgemiddelde capaciteit bij accumulaties EOM (kWp)</text>
<text transform="translate(828,118.4) rotate(90)" textLength="288" lengthAdjust="spacingAndGlyphs">EOM accumulaties van aantallen PV installaties,</text>
<text transform="translate(814.6,156) rotate(90)" textLength="213" lengthAdjust="spacingAndGlyphs">resp. opgestelde capaciteit, in MWp</text>
</g>
<g font-family="'DejaVu Sans','Liberation Sans',sans-serif" font-size="15.2" font-weight="bold" fill="#000" word-spacing="3.1">
<text x="63.4" y="15.5" textLength="80.8" lengthAdjust="spacingAndGlyphs">Aantallen</text>
<text x="154.2" y="15.5" textLength="99.7" lengthAdjust="spacingAndGlyphs">installaties,</text>
<text x="264.0" y="15.5" textLength="50.4" lengthAdjust="spacingAndGlyphs">totale</text>
<text x="322.9" y="15.5" textLength="89.1" lengthAdjust="spacingAndGlyphs">capaciteit,</text>
<text x="422.3" y="15.5" textLength="19.1" lengthAdjust="spacingAndGlyphs">en</text>
<text x="448.0" y="15.5" textLength="163.9" lengthAdjust="spacingAndGlyphs">systeemgemiddeld</text>
<text x="622.8" y="15.5" textLength="87.2" lengthAdjust="spacingAndGlyphs">vermogen</text>
<text x="718.7" y="15.5" textLength="30.3" lengthAdjust="spacingAndGlyphs">van</text>
<text x="88.5" y="35" textLength="634.8" lengthAdjust="spacingAndGlyphs">gecertificeerde PV projecten aan eind van elke maand volgens nieuwe,</text>
<text x="139.5" y="54.5" textLength="533.8" lengthAdjust="spacingAndGlyphs">continu vernieuwde VertiCer dataset. Status <tspan fill="#ff0000">2 januari 2026</tspan></text>
</g>
<text font-family="'DejaVu Sans','Liberation Sans',sans-serif" font-size="12" fill="#ff0000" x="238.6" y="513" textLength="343.6" lengthAdjust="spacingAndGlyphs">Capaciteit &amp; gemiddelde aug. - okt. 2024: onmogelijk (!)</text>
</svg>
</body></html>
